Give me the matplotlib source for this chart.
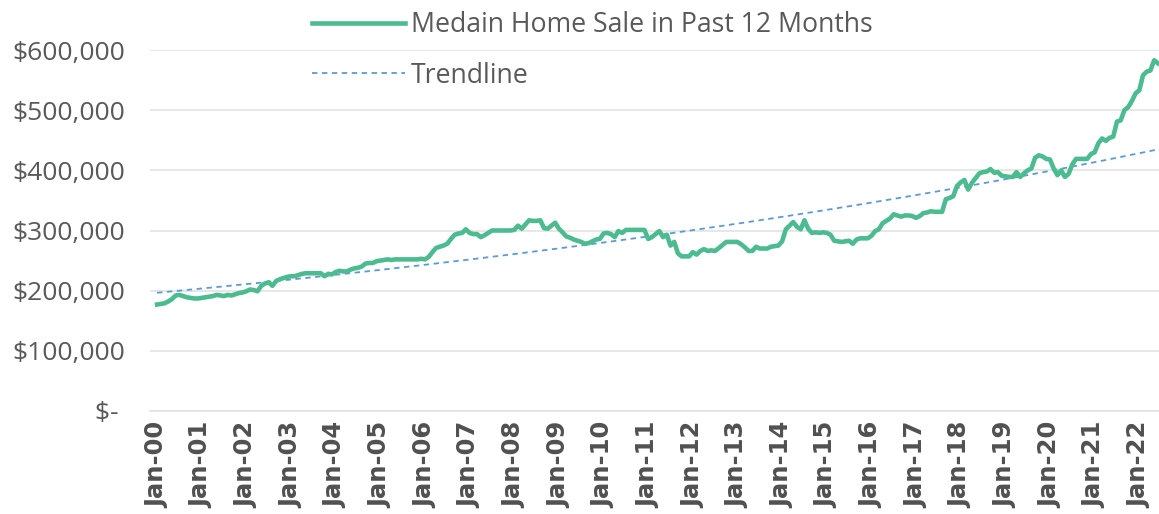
import matplotlib
matplotlib.use("Agg")
import matplotlib.pyplot as plt
import numpy as np
from matplotlib.lines import Line2D
from matplotlib.ticker import FuncFormatter

# Median home sale price, past 12 months, in $1000s (monthly, Jan 2000 onward)
sale_2000 = [177, 178, 179, 182, 186, 192, 193, 191, 189, 188, 187, 187]
sale_2001 = [188, 189, 190, 191, 193, 192, 191, 193, 192, 194, 196, 197]
sale_2002 = [199, 202, 201, 199, 208, 212, 214, 208, 216, 219, 221, 223]
sale_2003 = [224, 224, 226, 228, 229, 229, 229, 229, 229, 224, 228, 227]
sale_2004 = [231, 233, 232, 232, 235, 237, 238, 240, 245, 246, 246, 249]
sale_2005 = [250, 251, 252, 251, 252, 252, 252, 252, 252, 252, 252, 253]
sale_2006 = [252, 256, 264, 271, 273, 275, 278, 286, 293, 295, 296, 302]
sale_2007 = [296, 294, 294, 289, 292, 296, 300, 300, 300, 300, 300, 300]
sale_2008 = [301, 308, 303, 310, 317, 316, 316, 317, 304, 303, 308, 313]
sale_2009 = [303, 297, 290, 288, 285, 283, 281, 278, 279, 282, 285, 286]
sale_2010 = [295, 296, 294, 289, 299, 296, 301, 301, 301, 301, 301, 301]
sale_2011 = [286, 289, 294, 299, 289, 293, 275, 281, 262, 257, 257, 257]
sale_2012 = [264, 260, 266, 269, 266, 267, 266, 271, 276, 281, 281, 281]
sale_2013 = [281, 277, 272, 266, 266, 273, 270, 270, 270, 273, 274, 275]
sale_2014 = [282, 302, 308, 314, 306, 302, 317, 303, 296, 297, 296, 297]
sale_2015 = [296, 293, 283, 282, 281, 282, 283, 278, 285, 287, 287, 287]
sale_2016 = [291, 299, 302, 312, 316, 320, 327, 325, 323, 325, 325, 324]
sale_2017 = [321, 324, 329, 330, 332, 331, 331, 331, 352, 354, 357, 374]
sale_2018 = [380, 384, 368, 379, 387, 395, 397, 398, 402, 396, 397, 391]
sale_2019 = [390, 389, 389, 397, 389, 395, 400, 403, 421, 425, 423, 419]
sale_2020 = [418, 403, 392, 400, 389, 394, 410, 419, 419, 419, 419, 427]
sale_2021 = [430, 445, 453, 449, 454, 456, 481, 483, 500, 505, 515, 528]
sale_2022 = [533, 558, 564, 566, 583, 578]

years = list(range(2000, 2023))
tick_labels = [f"Jan-{y % 100:02d}" for y in years]

sales = np.array(
    sale_2000 + sale_2001 + sale_2002 + sale_2003 + sale_2004 + sale_2005
    + sale_2006 + sale_2007 + sale_2008 + sale_2009 + sale_2010 + sale_2011
    + sale_2012 + sale_2013 + sale_2014 + sale_2015 + sale_2016 + sale_2017
    + sale_2018 + sale_2019 + sale_2020 + sale_2021 + sale_2022,
    dtype=float,
) * 1000
months = np.arange(len(sales))

# exponential trendline, like Excel's
b, a = np.polyfit(months, np.log(sales), 1)
trend = np.exp(a + b * months)

GREEN = "#4dbb90"
BLUE = "#5b9bd5"
GREY = "#595959"

plt.rcParams["font.family"] = ["Open Sans", "DejaVu Sans"]

fig = plt.figure(figsize=(11.59, 5.14), dpi=100)
ax = fig.add_axes([150 / 1159, 103 / 514, 1009 / 1159, 361 / 514])

ax.plot(months, sales, color=GREEN, linewidth=3.3, solid_joinstyle="round", zorder=3)
ax.plot(months, trend, color=BLUE, linewidth=1.3, linestyle=(0, (3, 2.5)), zorder=2)

ax.set_ylim(0, 600000)
ax.set_xlim(-1.9, len(sales) - 0.7)
ax.set_yticks(np.arange(0, 600001, 100000))
ax.yaxis.set_major_formatter(
    FuncFormatter(lambda v, p: "$- " if v == 0 else f"${v:,.0f}")
)
ax.set_xticks(months[::12])
ax.set_xticklabels(tick_labels, rotation=90, fontweight="bold", fontsize=17.5,
                   color="#505050", family="DejaVu Sans")
ax.tick_params(axis="y", labelsize=19, colors=GREY, length=0, pad=18)
ax.tick_params(axis="x", length=0, pad=8)

ax.grid(axis="y", color="#e3e3e3", linewidth=1.2)
ax.set_axisbelow(True)
for side in ["top", "right", "left"]:
    ax.spines[side].set_visible(False)
ax.spines["bottom"].set_color("#e3e3e3")
ax.spines["bottom"].set_linewidth(1.2)

handles = [
    Line2D([], [], color=GREEN, linewidth=3.3),
    Line2D([], [], color=BLUE, linewidth=1.3, linestyle=(0, (3, 2.5))),
]
fig.legend(
    handles,
    ["Medain Home Sale in Past 12 Months", "Trendline"],
    loc="upper left",
    bbox_to_anchor=(288 / 1159, 1.025),
    frameon=False,
    fontsize=19.2,
    labelcolor=GREY,
    handlelength=3.5,
    handletextpad=0.2,
    labelspacing=0.85,
)

fig.savefig("out.png", dpi=100)
